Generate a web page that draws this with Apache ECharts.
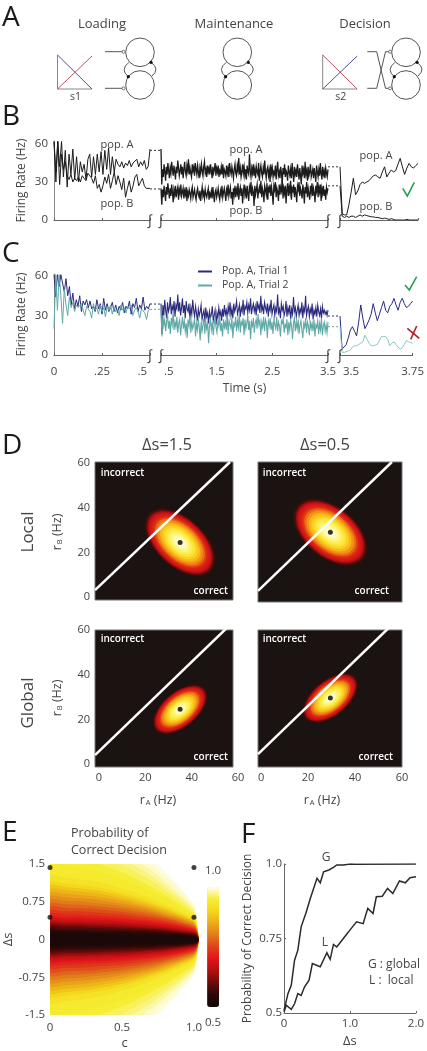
<!DOCTYPE html>
<html><head><meta charset="utf-8">
<script src="https://cdn.jsdelivr.net/npm/echarts@6/dist/echarts.min.js"></script>
<style>html,body{margin:0;padding:0;background:#fff}#c{width:427px;height:1051px}</style>
</head><body><div id="c"></div>
<script>
// ---------- Panels B and C: firing rates (Hz) ----------
const bLoadA=[62,30,62,42,62,34,55,26,52,36,56,32,50,30,46,38,44,32,48,52,34,50,36,52,38,54,36,55,40,57,36,50,38,48,44,42,46,41,45,43,47,42,45,44,48,42,46,43,47,40,42,56];
const bLoadB=[62,38,62,28,52,40,46,35,32,36,30,33,31,34,30,35,33,31,37,38,33,29,35,25,28,22,27,34,29,36,25,31,38,28,35,30,24,33,18,25,31,22,27,34,36,27,30,33,27,25,26,25];
const bMaintA=[56,28,40,34,44,38,31,42,36,45,39,33,41,37,46,40,35,43,38,32,
42,37,47,41,35,39,44,36,42,33,40,46,38,35,43,39,48,36,41,37,
34,44,39,42,35,45,40,36,43,38,33,41,37,44,39,35,42,46,37,40,
34,43,38,41,36,44,39,33,42,37,40,45,35,41,38,43,34,39,37,42,
36,44,33,40,38,35,43,37,41,34,45,39,36,42,38,33,40,44,37,35,
43,39,49,36,41,34,38,44,37,42,35,40,32,43,38,36,52,39,34,41,
37,44,35,40,33,42,38,36,45,31,39,43,37,34,41,36,47,38,33,40,
42,35,39,30,44,37,41,34,38,36,43,32,40,46,35,38,33,42,37,29,
41,36,44,34,39,37,31,43,38,35,40,33,45,37,30,42,36,39,34,44,
38,32,41,35,28,43,37,40,33,46,36,39,31,42,35,38,44,34,37,40,
33,41,36,30,43,38,34,40,35,45,37,32,42,36,39,33,41,37,34,40];
const bMaintB=[25,12,24,18,27,21,15,26,20,29,23,17,25,19,28,22,14,24,20,27,
18,23,26,16,24,21,28,19,22,25,17,23,20,26,15,22,19,24,21,17,
23,26,18,21,24,19,16,22,25,20,18,23,15,21,26,19,22,17,24,20,
18,22,25,16,21,19,23,17,26,20,14,22,24,18,21,25,19,16,23,20,
27,18,22,25,20,15,24,21,28,19,23,26,17,22,12,25,20,27,18,24,
21,29,16,23,26,19,25,13,22,28,20,24,17,27,21,15,26,23,30,19,
25,22,11,27,20,24,28,17,23,26,21,31,18,25,22,14,27,24,20,29,
16,25,23,28,19,26,21,12,27,24,30,18,25,22,15,28,20,26,23,32,
17,25,21,27,13,24,29,19,26,22,31,16,25,23,28,18,26,21,14,27,
24,30,19,25,22,17,28,23,13,26,21,30,18,25,24,16,27,22,29,19,
25,21,14,27,23,30,18,26,22,28,15,25,21,27,19,24,16,26,22,25];
const bDecA=[42,5,4,4,12,22,33,20,23,28,30,29,30,31,33,35,35.5,34,33,38,42,34,37,39.5,38,39,44,48.7,42,36,41,44.7,42,41,43,44.7];
const bDecB=[27,3,2,3,2,3,3,2,3,4,3,4,3.5,3,2.5,2.5,2,2,1.5,1,1.5,1,0.5,1,0.5,0,0,0,0,0,0.5,0,0,0,0,0];
const bGapLoad=[55,24.5];
const bGapDec=[42,27];

const cLoad1=[61,44,61,52,61,61,48,58,45,52,38,47,35,42,37,45,33,41,38,42,36,41,35,37,33,42,35,39,31,43,34,39,33,36,40,33,38,32,37,34,40,32,37,35,41,31,39,36,43,33,38,35,44,34,37,35,39];
const cLoad2=[20,61,34,61,45,24,50,38,30,44,36,40,33,38,36,35,39,34,30,37,35,33,28,39,34,36,31,38,33,36,29,37,34,38,31,36,33,35,30,38,34,36,32,37,35,38,30,34,36,33,28,35,34,32,27,34,35];
const cMaint1=[39,16,38,30,42,34,28,40,33,36,44,31,37,34,41,29,38,35,46,33,
40,30,36,43,32,38,28,41,35,33,39,27,36,31,42,34,29,37,32,26,
35,30,33,38,27,31,34,25,36,29,32,24,33,28,31,37,26,30,34,23,
32,28,36,30,33,26,35,29,38,31,34,27,37,32,40,30,35,28,39,33,
36,41,31,34,38,29,36,33,42,30,37,35,40,32,38,34,43,31,36,39,
33,37,30,41,35,38,32,45,34,37,31,40,36,33,39,29,37,34,42,31,
35,38,30,36,33,46,32,35,28,39,34,37,30,33,41,29,36,32,38,27,
35,31,44,33,36,29,34,38,30,35,32,40,28,36,33,45,30,34,37,29,
35,32,39,27,34,31,36,29,38,33,30,35,28,37,32,34,31,33,30,34];
const cMaint2=[35,14,30,22,27,18,25,31,20,26,16,28,23,33,19,25,21,29,17,24,
27,15,23,29,20,26,18,24,13,27,22,30,17,25,20,23,28,14,24,19,
27,21,11,25,18,23,28,16,26,20,24,9,22,27,19,25,15,23,29,21,
17,26,22,30,18,24,14,27,21,25,19,31,16,26,23,20,28,13,24,22,
29,18,26,21,32,17,25,23,28,15,27,20,24,30,19,26,12,25,22,28,
17,24,27,20,31,23,26,15,25,21,29,18,27,24,13,26,22,28,19,25,
16,27,23,20,29,18,25,22,14,26,24,28,17,23,21,27,15,25,19,26,
22,12,24,28,18,25,20,27,16,23,26,19,13,24,21,28,17,25,22,15,
26,20,24,18,27,14,23,21,26,16,24,19,28,15,22,25,18,23,17,25];
const cDec1=[29.6,5,6,8,13,19,21.5,18,14.5,25,38,28,20,23,26.6,31,39,32,26,31,36,41,34,32,37,39,43,38,34,40,43,39,36,37,39,41];
const cDec2=[21.5,2,2,2.5,3,4,6,7,7,8,9,10,15,12,9,7,7,7.5,8,11,14,14,14,12,7,9,10,8,6,4.5,5.5,8,11,10,9.5,9];
const cGapLoad=[38.7,34.7];
const cGapDec=[29.6,21.5];
const axisNums=[0,30,60];

// ---------- Panel D: density centres and spreads in Hz ----------
const centerLocal15=[35,24.5], centerLocal05=[29.5,29], centerGlobal15=[35,24.5], centerGlobal05=[29.5,29.6];
const spreadLocal15=[19,11,-45], spreadLocal05=[19,11.5,-42], spreadGlobal15=[14.5,8,42], spreadGlobal05=[14.5,8,42];
const ringLevels=[0.03,0.07,0.12,0.18,0.24,0.30,0.36,0.42,0.48,0.54,0.60,0.66,0.72,0.78,0.84,0.90,0.96];
const ringRadii=[1,0.97,0.94,0.91,0.88,0.84,0.79,0.74,0.69,0.63,0.56,0.49,0.42,0.35,0.27,0.19,0.1];
const lineLocal15=[[-1.7,3.1],[56.5,60.5]], lineLocal05=[[-1.3,2.8],[55.7,60.5]];
const lineGlobal15=[[-1.7,4],[55.2,61]], lineGlobal05=[[-1.3,4.5],[54.4,61]];
const dTicks=[0,20,40,60];

// ---------- Panel E: half-width in delta-s of each probability contour at each c ----------
const eC=[0,0.1,0.2,0.3,0.4,0.5,0.6,0.7,0.8,0.9,1.0,1.02,1.035];
const eLevels=[0.995,0.99,0.98,0.97,0.96,0.95,0.94,0.92,0.90,0.88,0.86,0.84,0.82,0.80,0.78,0.76,0.74,0.72,0.70,0.68,0.66,0.64,0.62,0.60,0.58,0.56,0.54,0.52];
const eHalfWidth=[
[2.6,2.55,2.5,2.4,2.25,2.05,1.85,1.6,1.35,1.05,.7,.42,0],
[2.4,2.36,2.3,2.2,2.07,1.9,1.72,1.49,1.25,.98,.66,.4,0],
[2.2,2.17,2.12,2.03,1.9,1.75,1.58,1.38,1.15,.9,.62,.38,0],
[2.0,1.98,1.94,1.85,1.74,1.6,1.45,1.27,1.06,.84,.58,.35,0],
[1.85,1.83,1.78,1.7,1.6,1.48,1.33,1.17,.98,.78,.54,.33,0],
[1.66,1.64,1.6,1.53,1.44,1.33,1.2,1.05,.89,.71,.5,.31,0],
[1.5,1.48,1.44,1.38,1.3,1.2,1.09,.96,.82,.66,.47,.3,0],
[1.25,1.23,1.2,1.16,1.1,1.02,.93,.82,.7,.57,.42,.27,0],
[1.13,1.12,1.09,1.05,1.0,.93,.85,.75,.65,.53,.39,.25,0],
[1.06,1.05,1.02,.99,.94,.88,.8,.71,.61,.5,.37,.24,0],
[.99,.98,.96,.93,.88,.82,.75,.67,.58,.47,.35,.23,0],
[.92,.91,.89,.86,.82,.77,.7,.63,.54,.44,.33,.22,0],
[.85,.84,.82,.8,.76,.71,.66,.59,.5,.42,.31,.21,0],
[.78,.77,.76,.73,.7,.66,.61,.55,.47,.39,.29,.2,0],
[.71,.7,.69,.67,.64,.61,.56,.51,.44,.36,.27,.19,0],
[.64,.63,.62,.61,.58,.55,.51,.46,.41,.34,.25,.17,0],
[.57,.56,.56,.54,.52,.5,.46,.42,.37,.31,.23,.16,0],
[.5,.5,.49,.48,.46,.44,.41,.38,.34,.28,.21,.15,0],
[.44,.44,.44,.43,.42,.4,.38,.35,.31,.26,.19,.14,0],
[.4,.4,.4,.39,.38,.36,.34,.31,.28,.23,.17,.13,0],
[.36,.36,.36,.35,.34,.33,.31,.28,.25,.21,.16,.12,0],
[.33,.33,.33,.32,.31,.3,.28,.26,.23,.19,.145,.11,0],
[.3,.3,.3,.29,.28,.27,.25,.23,.21,.17,.13,.1,0],
[.27,.27,.27,.26,.25,.24,.23,.21,.19,.15,.12,.09,0],
[.24,.24,.24,.23,.22,.21,.2,.19,.17,.14,.1,.08,0],
[.2,.2,.2,.19,.19,.18,.17,.16,.14,.12,.09,.07,0],
[.16,.16,.16,.15,.15,.15,.14,.13,.11,.1,.07,.05,0],
[.11,.11,.11,.11,.1,.1,.09,.09,.08,.07,.05,.04,0]];
const eDots=[[0,1.43],[0,0.44],[1,1.43],[1,0.44]];

// ---------- Panel F ----------
const fGlobal=[[0,.509],[.06,.565],[.11,.593],[.16,.677],[.21,.711],[.26,.789],[.33,.834],[.40,.885],[.50,.952],[.55,.937],[.60,.974],[.68,.980],[.75,.989],[.80,.997],[.90,.997],[1.0,1.0],[1.1,.999],[2.0,1.0]];
const fLocal=[[0,.503],[.035,.526],[.11,.512],[.16,.531],[.21,.565],[.26,.559],[.31,.587],[.38,.610],[.43,.666],[.55,.655],[.65,.702],[.70,.680],[.75,.730],[.80,.722],[.92,.756],[1.02,.784],[1.10,.806],[1.20,.800],[1.27,.851],[1.35,.834],[1.40,.890],[1.49,.892],[1.57,.918],[1.65,.901],[1.75,.943],[1.84,.937],[1.91,.954],[2.0,.957]];

// ---------- Build ----------
const FONT='"Open Sans","Noto Sans",sans-serif', INK='#444', AXIS='#666';
const grid=[],xAxis=[],yAxis=[],series=[],gfx=[];
function panelGrid(rect,x,y){grid.push(Object.assign({containLabel:false},rect));const i=grid.length-1;
  xAxis.push(Object.assign({gridIndex:i,type:'value',splitLine:{show:false},axisLine:{show:false},axisTick:{show:false},axisLabel:{show:false}},x));
  yAxis.push(Object.assign({gridIndex:i,type:'value',splitLine:{show:false},axisLine:{show:false},axisTick:{show:false},axisLabel:{show:false}},y));
  return i;}
function timed(vals,t0,t1){return vals.map((v,i)=>[t0+(t1-t0)*i/(vals.length-1),v]);}
function traceSeries(g,name,data,color,w,z){series.push({type:'line',name,xAxisIndex:g,yAxisIndex:g,data,showSymbol:false,symbol:'none',silent:true,animation:false,z:z||2,lineStyle:{color,width:w||1,join:'miter'},itemStyle:{color}});}
const lab=(o)=>Object.assign({show:true,color:INK,fontFamily:FONT,fontSize:11.5},o);
const axLine={show:true,lineStyle:{color:AXIS,width:1}};
const tickIn={show:true,inside:true,length:2,lineStyle:{color:AXIS}};

function tracePanel(top,h,ymax,isC,load,maint,dec,gl,gd,colors,names,widths){
  const yBase={min:0,max:ymax};
  const y1=Object.assign({},yBase,{axisLine:{show:true,onZero:false,lineStyle:{color:'#888'}},axisLabel:lab({margin:6,customValues:axisNums,formatter:v=>String(v)}),
    name:'Firing Rate (Hz)',nameLocation:'middle',nameGap:26,nameRotate:90,nameTextStyle:{color:INK,fontFamily:FONT,fontSize:12}});
  const mk=(ticks,labs,names2)=>Object.assign({axisLine:axLine,axisTick:Object.assign({},tickIn,{customValues:ticks})},isC?{axisLabel:lab(Object.assign({margin:11,customValues:ticks,formatter:v=>labs[ticks.indexOf(v)]},names2||{}))}:{});
  const g1=panelGrid({left:54,width:96,top,height:h},Object.assign({min:0,max:.5},mk([0,.25,.5],['0','.25','.5 '],{alignMaxLabel:'right'})),y1);
  const g2=panelGrid({left:161,width:167,top,height:h},Object.assign({min:.5,max:3.5},mk([.5,1.5,2.5,3.5],[' .5','1.5','2.5','3.5'],{alignMinLabel:'left'}),isC?{name:'Time (s)',nameLocation:'middle',nameGap:28,nameTextStyle:{color:INK,fontFamily:FONT,fontSize:12}}:{}),Object.assign({},yBase));
  const g3=panelGrid({left:340,width:78,top,height:h},Object.assign({min:3.5,max:3.75},mk([3.5,3.75],[' 3.5','3.75'],{alignMinLabel:'left'})),Object.assign({},yBase));
  const gA=panelGrid({left:150,width:11,top,height:h},{min:0,max:1,show:false},Object.assign({},yBase,{show:false}));
  const gB=panelGrid({left:328,width:12,top,height:h},{min:0,max:1,show:false},Object.assign({},yBase,{show:false}));
  [0,1].forEach(k=>{
    traceSeries(g1,names[k],timed(load[k],0,.5),colors[k],1,2+k);
    traceSeries(g2,names[k],timed(maint[k],.5,3.5),colors[k],widths[k],2+k);
    traceSeries(g3,names[k],timed(dec[k],3.5,3.75),isC&&k==1?'#8cc6c4':colors[k],1,2+k);
    [[gA,gl],[gB,gd]].forEach(([g,vals])=>series.push({type:'line',xAxisIndex:g,yAxisIndex:g,data:[[0,vals[k]],[1,vals[k]]],showSymbol:false,symbol:'none',silent:true,animation:false,lineStyle:{color:isC?colors[k]:'#333',width:1,type:[2,2]}}));
  });
}
tracePanel(141,79,62.4,false,[bLoadA,bLoadB],[bMaintA,bMaintB],[bDecA,bDecB],bGapLoad,bGapDec,['#1c1c1c','#1c1c1c'],['pop. A','pop. B'],[1.3,1.3]);
tracePanel(274,81,61.5,true,[cLoad1,cLoad2],[cMaint1,cMaint2],[cDec1,cDec2],cGapLoad,cGapDec,['#2b2b7e','#5fa9a6'],['Pop. A, Trial 1','Pop. A, Trial 2'],[1.1,1.1]);

// Panel D
const dSeries=[];
function dPanel(rect,xr,yr,center,spread,line,showX,showY){
  const xa={min:xr[0],max:xr[1]},ya={min:yr[0],max:yr[1]};
  if(showX) Object.assign(xa,{axisLabel:lab({margin:5,fontSize:11,customValues:dTicks,formatter:v=>String(v)})});
  if(showY) Object.assign(ya,{axisLabel:lab({margin:5,fontSize:11,customValues:dTicks,formatter:v=>String(v)})});
  const g=panelGrid(Object.assign({show:true,backgroundColor:'#1a1311',borderColor:'#777',borderWidth:1},rect),xa,ya);
  series.push({type:'custom',coordinateSystem:'cartesian2d',xAxisIndex:g,yAxisIndex:g,silent:true,animation:false,clip:true,z:1,
    data:ringLevels.map(l=>[l]),encode:{x:-1,y:-1},
    renderItem(params,api){
      const r=ringRadii[params.dataIndex],a=spread[0]*r,b=spread[1]*r,th=spread[2]*Math.PI/180,pts=[];
      for(let k=0;k<64;k++){const t=k/64*2*Math.PI,u=a*Math.cos(t),v=b*Math.sin(t);
        pts.push(api.coord([center[0]+u*Math.cos(th)-v*Math.sin(th),center[1]+u*Math.sin(th)+v*Math.cos(th)]));}
      return {type:'polygon',shape:{points:pts},style:{fill:api.visual('color')}};
    }});
  dSeries.push(series.length-1);
  series.push({type:'line',xAxisIndex:g,yAxisIndex:g,data:line,showSymbol:false,symbol:'none',silent:true,animation:false,z:3,lineStyle:{color:'#fff',width:2.5}});
  series.push({type:'scatter',xAxisIndex:g,yAxisIndex:g,data:[center],symbolSize:5,silent:true,animation:false,z:4,itemStyle:{color:'#000'}});
}
dPanel({left:95,width:138,top:462,height:138},[-1.7,57.8],[-1.3,60.5],centerLocal15,spreadLocal15,lineLocal15,false,true);
dPanel({left:258,width:144,top:462,height:140},[-1.3,60],[-2.2,60.5],centerLocal05,spreadLocal05,lineLocal05,false,false);
dPanel({left:95,width:138,top:630,height:137},[-1.7,57.8],[-1.3,60],centerGlobal15,spreadGlobal15,lineGlobal15,true,true);
dPanel({left:258,width:144,top:630,height:137},[-1.3,60],[-1.3,60],centerGlobal05,spreadGlobal05,lineGlobal05,true,false);

// Panel E
const eLabX={0:'0',0.5:'0.5',1:'1.0'}, eLabY={'1.5':'1.5','0.75':'0.75','0':'0','-0.75':'-0.75','-1.5':'-1.5'};
const gE=panelGrid({left:50,width:149,top:864,height:151},
 {min:0,max:1.035,axisLabel:lab({margin:7,customValues:[0,.5,1],formatter:v=>eLabX[v]}),name:'c',nameLocation:'middle',nameGap:22,nameTextStyle:{color:INK,fontFamily:FONT,fontSize:13}},
 {min:-1.5,max:1.5,axisLabel:lab({margin:5,customValues:[-1.5,-.75,0,.75,1.5],formatter:v=>eLabY[String(v)]}),name:'Δs',nameLocation:'middle',nameGap:21,nameRotate:90,nameTextStyle:{color:INK,fontFamily:FONT,fontSize:13}});
series.push({type:'custom',coordinateSystem:'cartesian2d',xAxisIndex:gE,yAxisIndex:gE,silent:true,animation:false,clip:true,z:1,
  data:eLevels.map(l=>[l]),encode:{x:-1,y:-1},
  renderItem(params,api){
    const w=eHalfWidth[params.dataIndex],up=eC.map((c,i)=>api.coord([c,w[i]])),dn=eC.map((c,i)=>api.coord([c,-w[i]])).reverse();
    return {type:'polygon',shape:{points:up.concat(dn),smooth:0.25},style:{fill:api.visual('color')}};
  }});
const eSeries=series.length-1;
series.push({type:'scatter',xAxisIndex:gE,yAxisIndex:gE,data:eDots,symbolSize:5,clip:false,silent:true,animation:false,z:5,itemStyle:{color:'#111'}});

// Panel F
const fLabX={0:'0',1:'1.0',2:'2.0'},fLabY={0.5:'0.5',0.75:'0.75',1:'1.0'};
const gF=panelGrid({left:284,width:135,top:864,height:149},
 {min:0,max:2,interval:1,axisLine:axLine,axisTick:tickIn,axisLabel:lab({margin:5,formatter:v=>fLabX[v]}),name:'Δs',nameLocation:'middle',nameGap:22,nameTextStyle:{color:INK,fontFamily:FONT,fontSize:13}},
 {min:.5,max:1,interval:.25,axisLine:axLine,axisTick:tickIn,axisLabel:lab({margin:2,formatter:v=>fLabY[v]}),name:'Probability of Correct Decision',nameLocation:'middle',nameGap:30,nameRotate:90,nameTextStyle:{color:INK,fontFamily:FONT,fontSize:12}});
traceSeries(gF,'G',fGlobal,'#2a2a2a',1.5);
traceSeries(gF,'L',fLocal,'#2a2a2a',1.5);

// Text and the schematic of panel A
function T(text,x,y,o){o=o||{};gfx.push({type:'text',x,y,rotation:o.rot||0,silent:true,z:20,style:{text,fill:o.fill||INK,fontFamily:FONT,fontSize:o.size||11,fontWeight:o.weight||'normal',align:o.align||'center',verticalAlign:'middle',rich:o.rich}});}
function L(pts,stroke,w){gfx.push({type:'polyline',silent:true,z:20,shape:{points:pts},style:{stroke:stroke||'#555',lineWidth:w||1,fill:'none'}});}
[['A',2,18],['B',2,117],['C',2,254],['D',2,446],['E',2,833],['F',241,835]].forEach(a=>T(a[0],a[1],a[2],{size:28,align:'left',fill:'#1a1a1a'}));
T('Loading',102,24,{size:13});T('Maintenance',234,24,{size:13});T('Decision',365,24,{size:13});
function loop(cx){
  [[cx,52.3],[cx,85]].forEach(c=>gfx.push({type:'circle',silent:true,z:20,shape:{cx:c[0],cy:c[1],r:14.3},style:{fill:'none',stroke:'#555',lineWidth:1}}));
  [[cx-11,62.3,cx-11.7,76.7,cx-20.4,69.5],[cx+11,62.3,cx+12,76,cx+20.4,69]].forEach(b=>gfx.push({type:'bezierCurve',silent:true,z:20,shape:{x1:b[0],y1:b[1],x2:b[2],y2:b[3],cpx1:b[4],cpy1:b[5]},style:{fill:'none',stroke:'#555',lineWidth:1}}));
  [[cx+11,62.3],[cx-11.7,76.7]].forEach(c=>gfx.push({type:'circle',silent:true,z:21,shape:{cx:c[0],cy:c[1],r:1.6},style:{fill:'#111'}}));
}
function openEnd(x,y){gfx.push({type:'circle',silent:true,z:21,shape:{cx:x,cy:y,r:1.5},style:{fill:'#fff',stroke:'#555',lineWidth:.8}});}
function tri(x,c1,c2,label){L([[x,55],[x,89],[x+34.5,89]],'#888',1);L([[x,55],[x+34.5,89]],c1,.9);L([[x,89],[x+34.5,56]],c2,.9);T(label,x+18,97,{size:10.5});}
tri(57.5,'#3a3f8f','#b04050','s1');tri(322.7,'#b04050','#3a3f8f','s2');
loop(140);loop(237.3);loop(406);
L([[105,51.7],[122.5,51.7]]);L([[105,88.3],[122.5,88.3]]);openEnd(123.5,51.7);openEnd(123.5,88.3);
L([[367.3,51.7],[376.7,51.7],[385.5,88.3],[389,88.3]]);L([[367.3,88.3],[376.7,88.3],[385.5,51.7],[389,51.7]]);openEnd(390,51.7);openEnd(390,88.3);

[[117,145,'pop. A'],[117,204,'pop. B'],[246,150,'pop. A'],[246,211,'pop. B'],[376,156,'pop. A'],[376,207,'pop. B']].forEach(p=>T(p[2],p[0],p[1],{size:11}));
[[150,221],[161,221],[328,221],[340,221],[150,356],[161,356],[328,356],[340,356]].forEach(p=>T('∫',p[0],p[1],{size:14,fill:'#333'}));
L([[402.7,188.3],[407.3,196],[414.3,182.3]],'#2e9e4f',1.6);
L([[405,285],[409.3,290],[416.7,276.7]],'#2e9e4f',1.6);
L([[407.3,328.3],[419.3,338.3]],'#b0202a',1.6);L([[416.7,326],[410.7,339.3]],'#b0202a',1.6);

T('Δs=1.5',167,445,{size:16.5});T('Δs=0.5',325,445,{size:16.5});
T('Local',28,532,{size:17,rot:Math.PI/2});T('Global',28,703,{size:17,rot:Math.PI/2});
const subRich={a:{fontSize:12.5,fontFamily:FONT,fill:INK,color:INK},b:{fontSize:7.5,fontFamily:FONT,fill:INK,color:INK,verticalAlign:'bottom',padding:[6,0,0,1]}};
T('{a|r}{b|B}{a| (Hz)}',57,532,{rot:Math.PI/2,rich:subRich});T('{a|r}{b|B}{a| (Hz)}',57,698,{rot:Math.PI/2,rich:subRich});
T('{a|r}{b|A}{a| (Hz)}',158,800,{rich:subRich});T('{a|r}{b|A}{a| (Hz)}',322,800,{rich:subRich});
T('60',238,778,{size:11});
[[100.7,472.7],[262.7,472.7],[100.7,639],[262.7,639]].forEach(p=>T('incorrect',p[0],p[1],{size:10,fill:'#fff',align:'left',weight:600}));
[[228,591],[389,591],[228,757],[393,757]].forEach(p=>T('correct',p[0],p[1],{size:10,fill:'#fff',align:'right',weight:600}));
T('Probability of',71,833,{size:12.5,align:'left'});T('Correct Decision',71,850,{size:12.5,align:'left'});
T('G',326,858,{size:12});T('L',325,943,{size:12});
T('G : global',368,965,{size:12,align:'left'});T('L :  local',369,981,{size:12,align:'left'});

const chart=echarts.init(document.getElementById('c'),null,{renderer:'canvas',width:427,height:1051});
chart.setOption({animation:false,backgroundColor:'#fff',textStyle:{fontFamily:FONT},grid,xAxis,yAxis,series,
 legend:{show:true,orient:'vertical',left:198,top:266,padding:0,itemWidth:14,itemHeight:2,itemGap:3,icon:'rect',selectedMode:false,data:['Pop. A, Trial 1','Pop. A, Trial 2'],textStyle:{color:INK,fontFamily:FONT,fontSize:10.5,padding:[0,0,0,5]}},
 visualMap:[
  {type:'continuous',seriesIndex:eSeries,dimension:0,min:.5,max:1,left:205,top:865,padding:0,itemWidth:12,itemHeight:120,itemGap:5,text:['1.0','0.5'],textStyle:{color:INK,fontFamily:FONT,fontSize:11.5},calculable:false,hoverLink:false,
   inRange:{color:['#0f0a09','#2a0807','#6a0b0a','#b20f10','#e0141a','#e0401a','#e07c1a','#ecab1a','#f4d81c','#f6ee34','#fffef0']}},
  {type:'continuous',show:false,seriesIndex:dSeries,dimension:0,min:0,max:1,hoverLink:false,
   inRange:{color:['#1a1210','#4a0d0a','#a50f0f','#d8141a','#d82a14','#ef7a14','#f9b818','#fbe02a','#fdf260','#fefbb8','#ffffff']}}
 ],
 graphic:{elements:gfx}});
</script></body></html>
